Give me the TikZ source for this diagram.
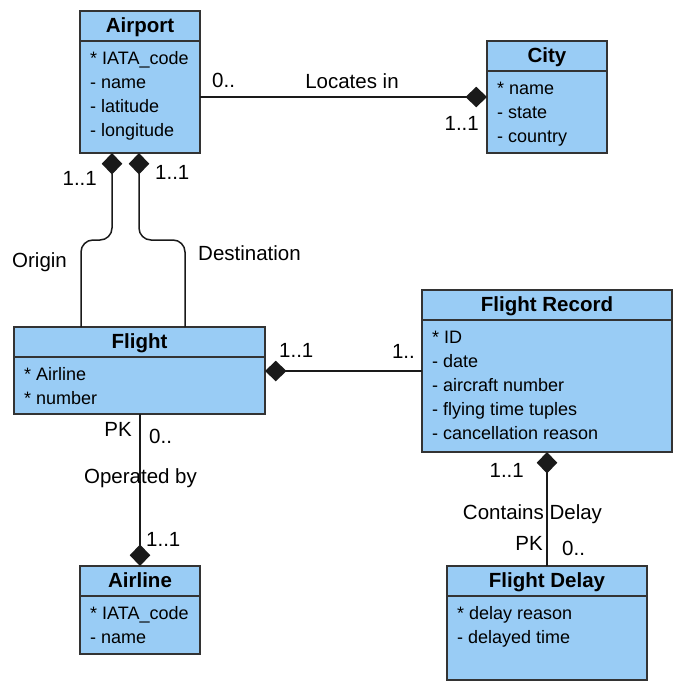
\documentclass[tikz,border=0pt]{standalone}
\usepackage{fontspec}
\setmainfont{Liberation Sans}
\usetikzlibrary{arrows.meta,calc}
\definecolor{boxfill}{HTML}{99CCF5}
\definecolor{boxline}{HTML}{333333}
\definecolor{linkline}{HTML}{1A1A1A}
\tikzset{
  box/.style={draw=boxline, fill=boxfill, line width=1.5pt, inner sep=0pt, outer sep=0pt},
  divider/.style={draw=boxline, line width=1.5pt},
  title/.style={font=\fontsize{20.5}{24}\selectfont\bfseries, inner sep=0pt},
  attr/.style={font=\fontsize{18}{24}\selectfont, anchor=base west, inner sep=0pt},
  lbl/.style={font=\fontsize{20.5}{24}\selectfont, inner sep=0pt},
  comp/.style={draw=linkline, line width=1.5pt, -{Diamond[length=21.5pt,width=20.5pt]}},
}
\begin{document}
\begin{tikzpicture}[x=1pt,y=-1pt]
\useasboundingbox (0,0) rectangle (684,694);
% name, centre, width, height, title, attributes
\def\entity#1#2#3#4#5#6{%
  \node[box, minimum width=#3, minimum height=#4] (#1) at (#2) {};
  \draw[divider] ($(#1.north west)+(0,30)$) -- ($(#1.north east)+(0,30)$);
  \node[title, anchor=base] (#1-title) at ($(#1.north)+(0,21)$) {#5};
  \foreach \txt [count=\i] in {#6}
    \node[attr] (#1-\i) at ($(#1.north west)+(10,29.5+24*\i)$) {\txt};
}

\entity{airport}{140,82}{120pt}{142pt}{Airport}{* IATA\_code, - name, - latitude, - longitude}
\entity{city}{547,97}{120pt}{112pt}{City}{* name, - state, - country}
\entity{flight}{139.5,370.5}{251pt}{87pt}{Flight}{* Airline, * number}
\entity{fr}{547,371}{250pt}{162pt}{Flight Record}{* ID, - date, - aircraft number, - flying time tuples, - cancellation reason}
\entity{airline}{140,610}{120pt}{88pt}{Airline}{* IATA\_code, - name}
\entity{fd}{547,623}{200pt}{114pt}{Flight Delay}{* delay reason, - delayed time}

% connectors
\draw[comp] (airport.east |- city.west) -- (city.west);
\draw[comp, rounded corners=12pt] ($(flight.north)+(-58.5,0)$) |- ($(airport.south)+(-28,87)$) -- ($(airport.south)+(-28,0)$);
\draw[comp, rounded corners=12pt] ($(flight.north)+(45.5,0)$) |- ($(airport.south)+(-1,87)$) -- ($(airport.south)+(-1,0)$);
\draw[comp] (fr.west) -- (fr.west -| flight.east);
\draw[comp] (flight.south -| airline.north) -- (airline.north);
\draw[comp] (fd.north) -- (fr.south);

% labels
\node[lbl, anchor=base west] (loc-0) at (212,87) {0..};
\node[lbl, anchor=base] (loc) at (352,88) {Locates in};
\node[lbl, anchor=base east] (loc-1) at (479,130) {1..1};
\node[lbl, anchor=base east] (orig-1) at (97,185) {1..1};
\node[lbl, anchor=base west] (dest-1) at (155,179) {1..1};
\node[lbl, anchor=base west] (orig) at (12,267) {Origin};
\node[lbl, anchor=base west] (dest) at (198,260) {Destination};
\node[lbl, anchor=base west] (rec-1) at (279,357) {1..1};
\node[lbl, anchor=base east] (rec-0) at (415,358) {1..};
\node[lbl, anchor=base east] (op-pk) at (132,436) {PK};
\node[lbl, anchor=base west] (op-0) at (149,443) {0..};
\node[lbl, anchor=base] (op) at (140.5,483) {Operated by};
\node[lbl, anchor=base west] (op-1) at (146,546) {1..1};
\node[lbl, anchor=base east] (del-1) at (524,477) {1..1};
\node[lbl, anchor=base] (del) at (532.5,519) {Contains Delay};
\node[lbl, anchor=base east] (del-pk) at (543,550) {PK};
\node[lbl, anchor=base west] (del-0) at (562,555) {0..};
\end{tikzpicture}
\end{document}
